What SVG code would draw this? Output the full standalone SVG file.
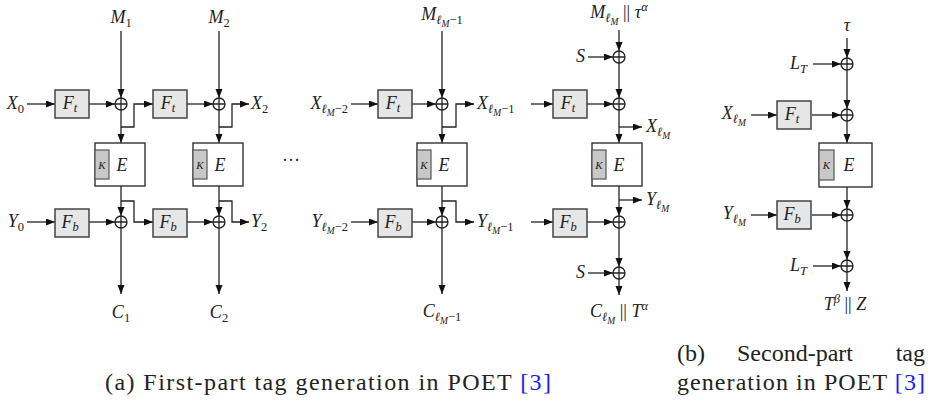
<svg xmlns="http://www.w3.org/2000/svg" xmlns:xlink="http://www.w3.org/1999/xlink" width="931" height="402" viewBox="0 0 931 402" font-family="Liberation Serif, Times New Roman, Times, DejaVu Serif, Noto Serif, serif">
<style>
.ln{fill:none;stroke:#222;stroke-width:1.3}
.ar{marker-end:url(#ah)}
.fbox{fill:#e6e6e6;stroke:#444;stroke-width:1.5}
.ebox{fill:#fff;stroke:#333;stroke-width:1.4}
.kbox{fill:#c8c8c8;stroke:#555;stroke-width:1.2}
.xor circle{fill:#fff;stroke:#222;stroke-width:1.3}
.xor path{stroke:#222;stroke-width:1.3}
text{font-family:Liberation Serif, Times New Roman, Times, DejaVu Serif, Noto Serif, serif;fill:#222}
.m{font-size:18px;font-style:italic}
.s{font-size:12.5px;font-style:italic}
.ss{font-size:9.5px;font-style:italic}
.sr{font-size:12.5px;font-style:normal}
.r{font-style:normal}
.k{font-size:11px;font-style:italic}
.cap{font-size:24px;font-style:normal}
.ref{fill:#1a1aff}
</style>
<defs>
<marker id="ah" markerUnits="userSpaceOnUse" markerWidth="10" markerHeight="8" refX="9" refY="3.5" orient="auto">
<path d="M0,0 L9,3.5 L0,7 z" fill="#111"/>
</marker>
<g id="xo" class="xor"><circle r="6"/><path d="M-6,0H6M0,-6V6"/></g>
<g id="ft"><rect class="fbox" x="0" y="0" width="34" height="28"/><text class="m" x="15" y="19" text-anchor="middle">F<tspan class="s" dy="3">t</tspan></text></g>
<g id="fb"><rect class="fbox" x="0" y="0" width="34" height="28"/><text class="m" x="15" y="19" text-anchor="middle">F<tspan class="s" dy="3">b</tspan></text></g>
<g id="eb"><rect class="ebox" x="0" y="0" width="50" height="43"/><rect class="kbox" x="0" y="7" width="14" height="29"/><text class="k" x="7" y="26" text-anchor="middle">K</text><text class="m" x="27" y="28" text-anchor="middle">E</text></g>
</defs>

<g id="connectors">
<path class="ln ar" d="M121,31V98"/>
<path class="ln ar" d="M27,104H55"/>
<path class="ln ar" d="M89,104H115"/>
<path class="ln ar" d="M121,110V143"/>
<path class="ln ar" d="M121,127H134V104H153"/>
<path class="ln ar" d="M121,186V216"/>
<path class="ln ar" d="M121,201H134V222H153"/>
<path class="ln ar" d="M27,222H55"/>
<path class="ln ar" d="M89,222H115"/>
<path class="ln ar" d="M121,228V294"/>
<path class="ln ar" d="M219,31V98"/>
<path class="ln ar" d="M187,104H213"/>
<path class="ln ar" d="M219,110V143"/>
<path class="ln ar" d="M219,127H232V104H249"/>
<path class="ln ar" d="M219,186V216"/>
<path class="ln ar" d="M219,201H232V222H249"/>
<path class="ln ar" d="M187,222H213"/>
<path class="ln ar" d="M219,228V294"/>
<path class="ln ar" d="M442,31V98"/>
<path class="ln ar" d="M351,104H378"/>
<path class="ln ar" d="M412,104H436"/>
<path class="ln ar" d="M442,110V143"/>
<path class="ln ar" d="M442,127H456V104H474"/>
<path class="ln ar" d="M531,104H553"/>
<path class="ln ar" d="M442,186V216"/>
<path class="ln ar" d="M442,201H456V222H474"/>
<path class="ln ar" d="M531,222H553"/>
<path class="ln ar" d="M351,222H378"/>
<path class="ln ar" d="M412,222H436"/>
<path class="ln ar" d="M442,228V294"/>
<path class="ln ar" d="M619,30V51"/>
<path class="ln ar" d="M588,57H613"/>
<path class="ln ar" d="M619,63V98"/>
<path class="ln ar" d="M587,104H613"/>
<path class="ln ar" d="M619,110V143"/>
<path class="ln ar" d="M619,127H642"/>
<path class="ln ar" d="M619,186V216"/>
<path class="ln ar" d="M619,200H642"/>
<path class="ln ar" d="M587,222H613"/>
<path class="ln ar" d="M619,228V267"/>
<path class="ln ar" d="M588,273H613"/>
<path class="ln ar" d="M619,279V295"/>
<path class="ln ar" d="M847,38V58"/>
<path class="ln ar" d="M813,64H841"/>
<path class="ln ar" d="M847,70V109"/>
<path class="ln ar" d="M751,115H777"/>
<path class="ln ar" d="M812,115H841"/>
<path class="ln ar" d="M847,121V143"/>
<path class="ln ar" d="M847,187V209"/>
<path class="ln ar" d="M751,215H777"/>
<path class="ln ar" d="M812,215H841"/>
<path class="ln ar" d="M847,221V260"/>
<path class="ln ar" d="M813,266H841"/>
<path class="ln ar" d="M847,272V291"/>
</g>

<g id="ft1"><use xlink:href="#ft" x="55" y="90"/></g>
<g id="ft2"><use xlink:href="#ft" x="153" y="90"/></g>
<g id="ft3"><use xlink:href="#ft" x="378" y="90"/></g>
<g id="ft4"><use xlink:href="#ft" x="553" y="90"/></g>
<g id="fb1"><use xlink:href="#fb" x="55" y="209"/></g>
<g id="fb2"><use xlink:href="#fb" x="153" y="209"/></g>
<g id="fb3"><use xlink:href="#fb" x="378" y="209"/></g>
<g id="fb4"><use xlink:href="#fb" x="553" y="209"/></g>
<g id="e1"><use xlink:href="#eb" x="95" y="143"/></g>
<g id="e2"><use xlink:href="#eb" x="193" y="143"/></g>
<g id="e3"><use xlink:href="#eb" x="417" y="143"/></g>
<g id="e4"><use xlink:href="#eb" x="592" y="143"/></g>
<g id="xt1"><use xlink:href="#xo" x="121" y="104"/></g>
<g id="xt2"><use xlink:href="#xo" x="219" y="104"/></g>
<g id="xt3"><use xlink:href="#xo" x="442" y="104"/></g>
<g id="xt4"><use xlink:href="#xo" x="619" y="104"/></g>
<g id="xs1"><use xlink:href="#xo" x="619" y="57"/></g>
<g id="xb1"><use xlink:href="#xo" x="121" y="222"/></g>
<g id="xb2"><use xlink:href="#xo" x="219" y="222"/></g>
<g id="xb3"><use xlink:href="#xo" x="442" y="222"/></g>
<g id="xb4"><use xlink:href="#xo" x="619" y="222"/></g>
<g id="xs2"><use xlink:href="#xo" x="619" y="273"/></g>

<g id="labels-a">
<text class="m" x="121" y="23" text-anchor="middle">M<tspan class="sr" dy="4">1</tspan></text>
<text class="m" x="219" y="23" text-anchor="middle">M<tspan class="sr" dy="4">2</tspan></text>
<text class="m" x="442" y="20" text-anchor="middle">M<tspan class="s" dy="4">ℓ</tspan><tspan class="ss" dy="3">M</tspan><tspan class="sr" dy="-3">−1</tspan></text>
<text class="m" x="619" y="18" text-anchor="middle">M<tspan class="s" dy="4">ℓ</tspan><tspan class="ss" dy="3">M</tspan><tspan class="r" dy="-7">  ||  </tspan>τ<tspan class="s" dy="-7">α</tspan></text>
<text class="m" x="585" y="62" text-anchor="end">S</text>
<text class="m" x="585" y="278" text-anchor="end">S</text>
<text class="m" x="24" y="109" text-anchor="end">X<tspan class="sr" dy="4">0</tspan></text>
<text class="m" x="24" y="227" text-anchor="end">Y<tspan class="sr" dy="4">0</tspan></text>
<text class="m" x="251" y="109">X<tspan class="sr" dy="4">2</tspan></text>
<text class="m" x="251" y="227">Y<tspan class="sr" dy="4">2</tspan></text>
<text class="m" x="348" y="109" text-anchor="end">X<tspan class="s" dy="4">ℓ</tspan><tspan class="ss" dy="3">M</tspan><tspan class="sr" dy="-3">−2</tspan></text>
<text class="m" x="348" y="227" text-anchor="end">Y<tspan class="s" dy="4">ℓ</tspan><tspan class="ss" dy="3">M</tspan><tspan class="sr" dy="-3">−2</tspan></text>
<text class="m" x="477" y="109">X<tspan class="s" dy="4">ℓ</tspan><tspan class="ss" dy="3">M</tspan><tspan class="sr" dy="-3">−1</tspan></text>
<text class="m" x="477" y="227">Y<tspan class="s" dy="4">ℓ</tspan><tspan class="ss" dy="3">M</tspan><tspan class="sr" dy="-3">−1</tspan></text>
<text class="m" x="646" y="132">X<tspan class="s" dy="4">ℓ</tspan><tspan class="ss" dy="3">M</tspan></text>
<text class="m" x="646" y="205">Y<tspan class="s" dy="4">ℓ</tspan><tspan class="ss" dy="3">M</tspan></text>
<text class="m" x="121" y="318" text-anchor="middle">C<tspan class="sr" dy="4">1</tspan></text>
<text class="m" x="219" y="318" text-anchor="middle">C<tspan class="sr" dy="4">2</tspan></text>
<text class="m" x="442" y="317" text-anchor="middle">C<tspan class="s" dy="4">ℓ</tspan><tspan class="ss" dy="3">M</tspan><tspan class="sr" dy="-3">−1</tspan></text>
<text class="m" x="619" y="317" text-anchor="middle">C<tspan class="s" dy="4">ℓ</tspan><tspan class="ss" dy="3">M</tspan><tspan class="r" dy="-7">  ||  </tspan>T<tspan class="s" dy="-7">α</tspan></text>
<text class="m r" x="291" y="166" text-anchor="middle">···</text>
</g>

<g id="ft5"><use xlink:href="#ft" x="777" y="101"/></g>
<g id="fb5"><use xlink:href="#fb" x="777" y="201"/></g>
<g id="e5"><rect class="ebox" x="819" y="143" width="53" height="44"/><rect class="kbox" x="819" y="150" width="15" height="30"/><text class="k" x="826.5" y="169" text-anchor="middle">K</text><text class="m" x="849" y="171" text-anchor="middle">E</text></g>
<g id="xp1"><use xlink:href="#xo" x="847" y="64"/></g>
<g id="xp2"><use xlink:href="#xo" x="847" y="115"/></g>
<g id="xp3"><use xlink:href="#xo" x="847" y="215"/></g>
<g id="xp4"><use xlink:href="#xo" x="847" y="266"/></g>
<g id="labels-b">
<text class="m" x="847" y="31" text-anchor="middle">τ</text>
<text class="m" x="807" y="69" text-anchor="end">L<tspan class="s" dy="4">T</tspan></text>
<text class="m" x="807" y="271" text-anchor="end">L<tspan class="s" dy="4">T</tspan></text>
<text class="m" x="746" y="119" text-anchor="end">X<tspan class="s" dy="4">ℓ</tspan><tspan class="ss" dy="3">M</tspan></text>
<text class="m" x="746" y="219" text-anchor="end">Y<tspan class="s" dy="4">ℓ</tspan><tspan class="ss" dy="3">M</tspan></text>
<text class="m" x="845" y="310" text-anchor="middle">T<tspan class="s" dy="-7">β</tspan><tspan class="r" dy="7">  ||  </tspan>Z</text>
</g>

<g id="captions">
<text class="cap" x="105" y="390" textLength="446">(a) First-part tag generation in POET  <tspan class="ref">[3]</tspan></text>
<text class="cap" x="677" y="361">(b)</text>
<text class="cap" x="737" y="361">Second-part</text>
<text class="cap" x="925" y="361" text-anchor="end">tag</text>
<text class="cap" x="677" y="390" textLength="248">generation in POET <tspan class="ref">[3]</tspan></text>
</g>
</svg>
